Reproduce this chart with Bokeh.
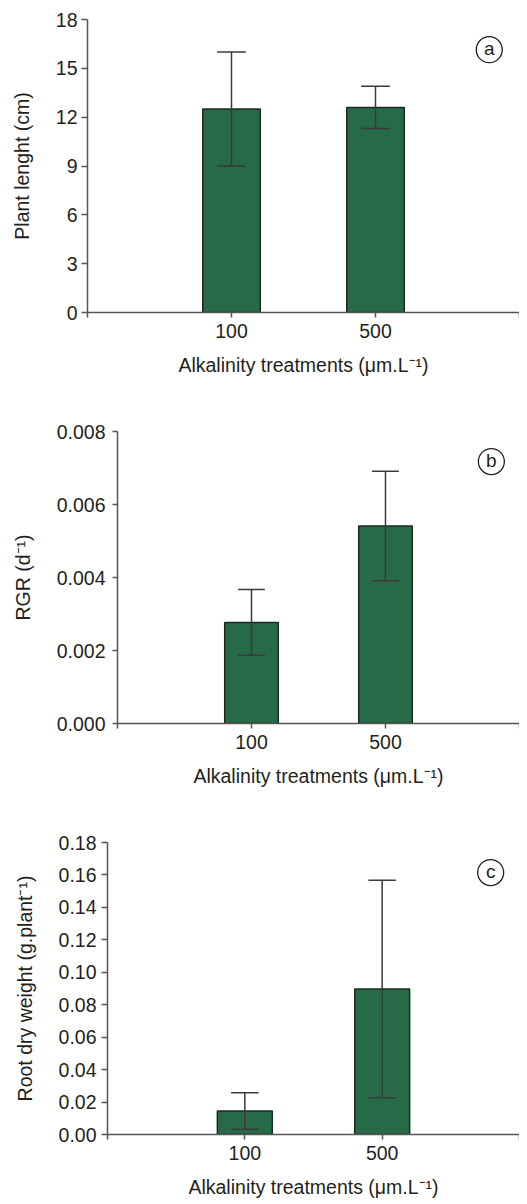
from bokeh.plotting import figure
from bokeh.models import FixedTicker, PrintfTickFormatter, Range1d
from bokeh.core.properties import value
from bokeh.embed import file_html
from bokeh.resources import INLINE

# ---- data ----
categories = ["100", "500"]
x_label = "Alkalinity treatments (\u03bcm.L\u207b\u00b9)"

length_mean = [12.5, 12.6]
length_err = [3.5, 1.3]
length_ticks = [0, 3, 6, 9, 12, 15, 18]

rgr_mean = [0.00277, 0.00541]
rgr_err = [0.0009, 0.0015]
rgr_ticks = [0.000, 0.002, 0.004, 0.006, 0.008]

root_mean = [0.0145, 0.0897]
root_err = [0.0113, 0.067]
root_ticks = [0.00, 0.02, 0.04, 0.06, 0.08, 0.10, 0.12, 0.14, 0.16, 0.18]

FONT = "Liberation Sans"
TXT = "#231f20"
AX = "#555555"
BAR = "#266a48"
BAR_LINE = "#1c2b22"
ERR = "#3a3a3a"


def panel(means, errs, yticks, fmt, ylabel, tag, fw, fh, top, left, bottom,
          ystand, ylab_stand, ytick_out, xlab_stand, xtick_stand):
    pos = [i + 1 for i in range(len(categories))]
    p = figure(frame_width=fw, frame_height=fh, output_backend="svg", toolbar_location=None,
               x_range=Range1d(0, len(categories) + 1),
               y_range=Range1d(yticks[0], yticks[-1]),
               min_border_top=top, min_border_left=left, min_border_bottom=bottom,
               min_border_right=0)
    p.outline_line_color = None
    p.grid.visible = False
    p.background_fill_color = "white"

    p.vbar(x=pos, top=means, bottom=0, width=0.4, fill_color=BAR,
           line_color=BAR_LINE, line_width=1.5)
    lo = [m - e for m, e in zip(means, errs)]
    hi = [m + e for m, e in zip(means, errs)]
    p.segment(x0=pos, y0=lo, x1=pos, y1=hi, line_color=ERR, line_width=1.5)
    cap = 0.1
    p.segment(x0=[x - cap for x in pos], y0=hi, x1=[x + cap for x in pos], y1=hi,
              line_color=ERR, line_width=1.5)
    p.segment(x0=[x - cap for x in pos], y0=lo, x1=[x + cap for x in pos], y1=lo,
              line_color=ERR, line_width=1.5)

    # panel tag in a circle
    xs = p.x_range.start + 0.93 * (p.x_range.end - p.x_range.start)
    ys = p.y_range.start + 0.897 * (p.y_range.end - p.y_range.start)
    p.scatter(x=[xs], y=[ys], size=26, marker="circle", fill_color=None,
              line_color=TXT, line_width=1.3)
    p.text(x=[xs], y=[ys], text=[tag], text_align="center", text_baseline="middle",
           text_font=value(FONT), text_font_size="19px", text_color=TXT, y_offset=-1)

    xa = p.xaxis[0]
    xa.ticker = FixedTicker(ticks=[0] + pos + [len(categories) + 1])
    xa.major_label_overrides = {0: "", len(categories) + 1: ""}
    for i, c in enumerate(categories):
        xa.major_label_overrides[i + 1] = c
    xa.axis_label = x_label
    ya = p.yaxis[0]
    ya.ticker = FixedTicker(ticks=yticks)
    ya.formatter = PrintfTickFormatter(format=fmt)
    ya.axis_label = ylabel
    for a in (xa, ya):
        a.axis_line_color = AX
        a.axis_line_width = 1.5
        a.major_tick_line_color = AX
        a.major_tick_line_width = 1.5
        a.major_tick_in = 0
        a.minor_tick_line_color = None
        a.major_label_text_font = FONT
        a.major_label_text_font_size = "19.5px"
        a.major_label_text_color = TXT
        a.axis_label_text_font = FONT
        a.axis_label_text_font_size = "19.5px"
        a.axis_label_text_font_style = "normal"
        a.axis_label_text_color = TXT
    xa.major_tick_out = 5
    xa.major_label_standoff = xtick_stand
    xa.axis_label_standoff = xlab_stand
    ya.major_tick_out = ytick_out
    ya.major_label_standoff = ystand
    ya.axis_label_standoff = ylab_stand
    return p


pa = panel(length_mean, length_err, length_ticks, "%d", "Plant lenght (cm)", "a",
           432, 293, 19, 87, 78, 4, 20, 6, 13, 6)
pb = panel(rgr_mean, rgr_err, rgr_ticks, "%.3f", "RGR (d\u207b\u00b9)", "b",
           402, 292, 41, 117, 77, 7, 20, 5, 13, 6)
pc = panel(root_mean, root_err, root_ticks, "%.2f", "Root dry weight (g.plant\u207b\u00b9)", "c",
           412, 292, 42, 107, 68, 5, 20, 6, 13, 6)

open("out.html", "w").write(file_html([pa, pb, pc], INLINE))
